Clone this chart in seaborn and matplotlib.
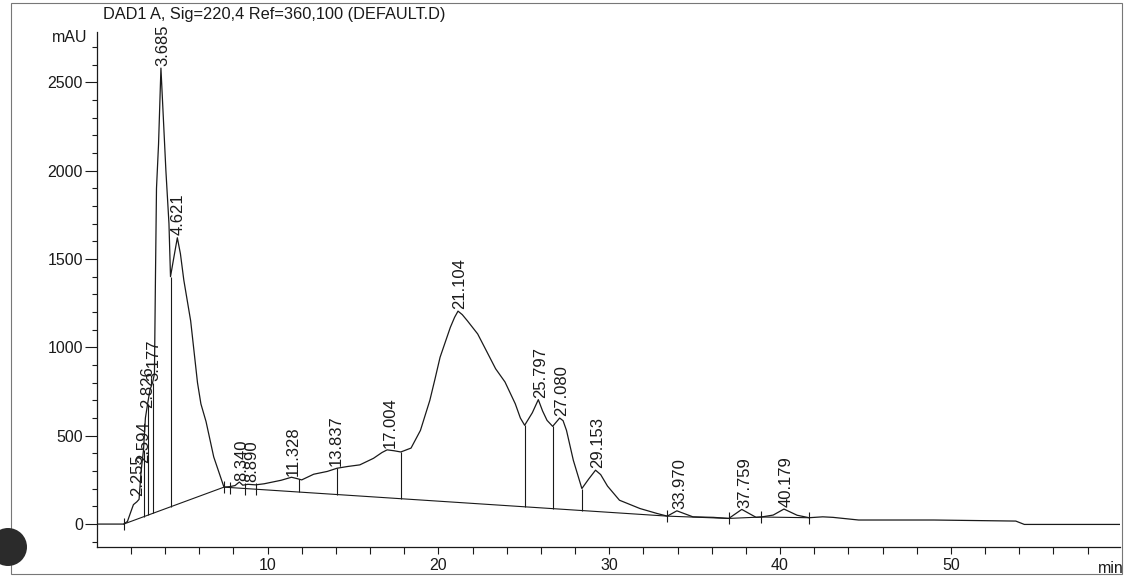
"""
HPLC chromatogram (DAD1 A, 220 nm) redrawn from a scanned printout.
"""

import numpy as np
import pandas as pd
import matplotlib
matplotlib.use("Agg")
import matplotlib.pyplot as plt
from matplotlib.patches import Rectangle, Circle
from matplotlib.ticker import FixedLocator, MultipleLocator
from matplotlib.transforms import IdentityTransform
import seaborn as sns

# detector trace (min, mAU)
time_min = [0, 1.58, 1.8, 2.0, 2.15, 2.35, 2.48, 2.6, 2.74, 2.85, 2.98, 3.12, 3.27, 3.38,
            3.44, 3.5, 3.62, 3.76, 3.9, 4.05, 4.23, 4.32, 4.5, 4.72, 4.9, 5.1, 5.5, 5.9,
            6.1, 6.4, 6.85, 7.45, 7.8, 8.1, 8.35, 8.55, 8.85, 9.3, 9.8, 10.8, 11.4, 11.7,
            12.0, 12.7, 13.5, 14.07, 14.7, 15.4, 16.2, 16.7, 17.0, 17.4, 17.8, 18.4, 18.95,
            19.5, 19.8, 20.1, 20.7, 20.95, 21.15, 21.4, 21.7, 22.3, 22.85, 23.35, 23.9,
            24.5, 24.8, 25.05, 25.5, 25.85, 26.1, 26.36, 26.69, 27.1, 27.3, 27.5, 27.9,
            28.4, 28.8, 29.2, 29.5, 29.9, 30.6, 31.8, 32.8, 33.4, 33.96, 34.9, 36.1,
            37.0, 37.76, 38.6, 38.9, 39.6, 40.23, 41.0, 41.7, 42.5, 43.1, 44.6, 49.0,
            53.8, 54.3, 59.9]
signal_mau = [0, 0, 15, 70, 110, 126, 140, 300, 420, 600, 680, 760, 800, 850,
              1400, 1900, 2150, 2580, 2300, 2000, 1700, 1400, 1500, 1620, 1530, 1380, 1150, 800,
              680, 580, 380, 209, 212, 218, 238, 220, 225, 222, 228, 248, 265, 258,
              250, 282, 298, 316, 326, 335, 372, 405, 420, 415, 408, 430, 530,
              700, 820, 944, 1113, 1170, 1205, 1185, 1150, 1076, 973, 879, 804,
              681, 600, 559, 630, 704, 640, 587, 553, 600, 585, 530, 361,
              201, 255, 305, 280, 215, 135, 88, 60, 45, 75, 41, 38,
              32, 83, 38, 40, 51, 85, 50, 36, 41, 38, 23, 23,
              17, -2, -2]

# labelled peaks: retention time and apex height (mAU)
peak_rt = [2.255, 2.594, 2.826, 3.177, 3.685, 4.621, 8.340, 8.890, 11.328, 13.837,
           17.004, 21.104, 25.797, 27.080, 29.153, 33.970, 37.759, 40.179]
peak_height = [150, 340, 650, 800, 2585, 1625, 235, 232, 265, 318,
               425, 1208, 708, 602, 308, 78, 85, 88]

# integration baseline, peak split positions and baseline event marks
base_t = [1.58, 7.45, 33.4, 37.0, 38.9, 41.7]
base_mau = [0, 209, 45, 32, 40, 36]
split_t = [2.74, 2.98, 3.27, 4.32, 11.85, 14.05, 17.8, 25.05, 26.69, 28.4]
event_t = [1.58, 7.45, 7.8, 8.7, 9.3, 33.4, 37.0, 38.9, 41.7]

INK = "#1a1a1a"


def main():
    sns.set_theme(style="ticks")
    plt.rcParams["font.family"] = ["Liberation Sans", "DejaVu Sans"]

    fig = plt.figure(figsize=(11.24, 5.78), dpi=100)
    ax = fig.add_axes([96.7 / 1124, 1 - 546.7 / 578, 1023.3 / 1124, (546.7 - 31.7) / 578])

    trace = pd.DataFrame({"time": time_min, "mAU": signal_mau})
    sns.lineplot(data=trace, x="time", y="mAU", ax=ax, color=INK, lw=0.9,
                 sort=False, estimator=None)

    # integration baseline and drop lines down to it
    ax.plot(base_t, base_mau, color=INK, lw=0.8)
    split_low = np.interp(split_t, base_t, base_mau)
    split_high = np.interp(split_t, time_min, signal_mau)
    ax.vlines(split_t, split_low, split_high, color=INK, lw=0.8)
    ax.plot(event_t, np.interp(event_t, base_t, base_mau), ls="none",
            marker="|", ms=9, mew=0.8, color=INK)

    # retention time labels
    for rt, h in zip(peak_rt, peak_height):
        ax.annotate(f"{rt:.3f}", xy=(rt, h), xytext=(2, 1), textcoords="offset points",
                    rotation=90, ha="center", va="bottom", fontsize=12, color=INK)

    ax.set_xlim(0, 59.9)
    ax.set_ylim(-128, 2786)
    ax.set_xlabel("")
    ax.set_ylabel("")
    sns.despine(ax=ax)
    for side in ("left", "bottom"):
        ax.spines[side].set_color(INK)
        ax.spines[side].set_linewidth(0.9)

    ax.xaxis.set_major_locator(FixedLocator([10, 20, 30, 40, 50]))
    ax.xaxis.set_minor_locator(FixedLocator(np.arange(2, 60, 2)))
    ax.yaxis.set_major_locator(FixedLocator([0, 500, 1000, 1500, 2000, 2500]))
    ax.yaxis.set_minor_locator(MultipleLocator(100))
    ax.tick_params(axis="x", which="both", length=5, width=0.8, color=INK,
                   labelsize=11.5, pad=3, labelcolor=INK)
    ax.tick_params(axis="y", which="major", length=9, width=0.8, color=INK,
                   labelsize=11.5, pad=1, labelcolor=INK)
    ax.tick_params(axis="y", which="minor", length=3.5, width=0.8, color=INK)

    # printout header and unit labels
    fig.text(103 / 1124, 1 - 14 / 578, "DAD1 A, Sig=220,4 Ref=360,100 (DEFAULT.D)",
             ha="left", va="center", fontsize=11.8, color=INK)
    fig.text(87 / 1124, 1 - 38 / 578, "mAU", ha="right", va="center", fontsize=11.5, color=INK)
    fig.text(1098 / 1124, 1 - 573 / 578, "min", ha="left", va="baseline",
             fontsize=11.5, color=INK)

    # page frame and punch hole from the scan
    fig.add_artist(Rectangle((11 / 1124, 4 / 578), 1111 / 1124, 571 / 578,
                             transform=fig.transFigure, fill=False, ec="#777777", lw=0.8))
    fig.add_artist(Circle((8, 31), 19, transform=IdentityTransform(),
                          fc="#2b2b2b", ec="none"))

    fig.savefig("out.png", dpi=100)


if __name__ == "__main__":
    main()
